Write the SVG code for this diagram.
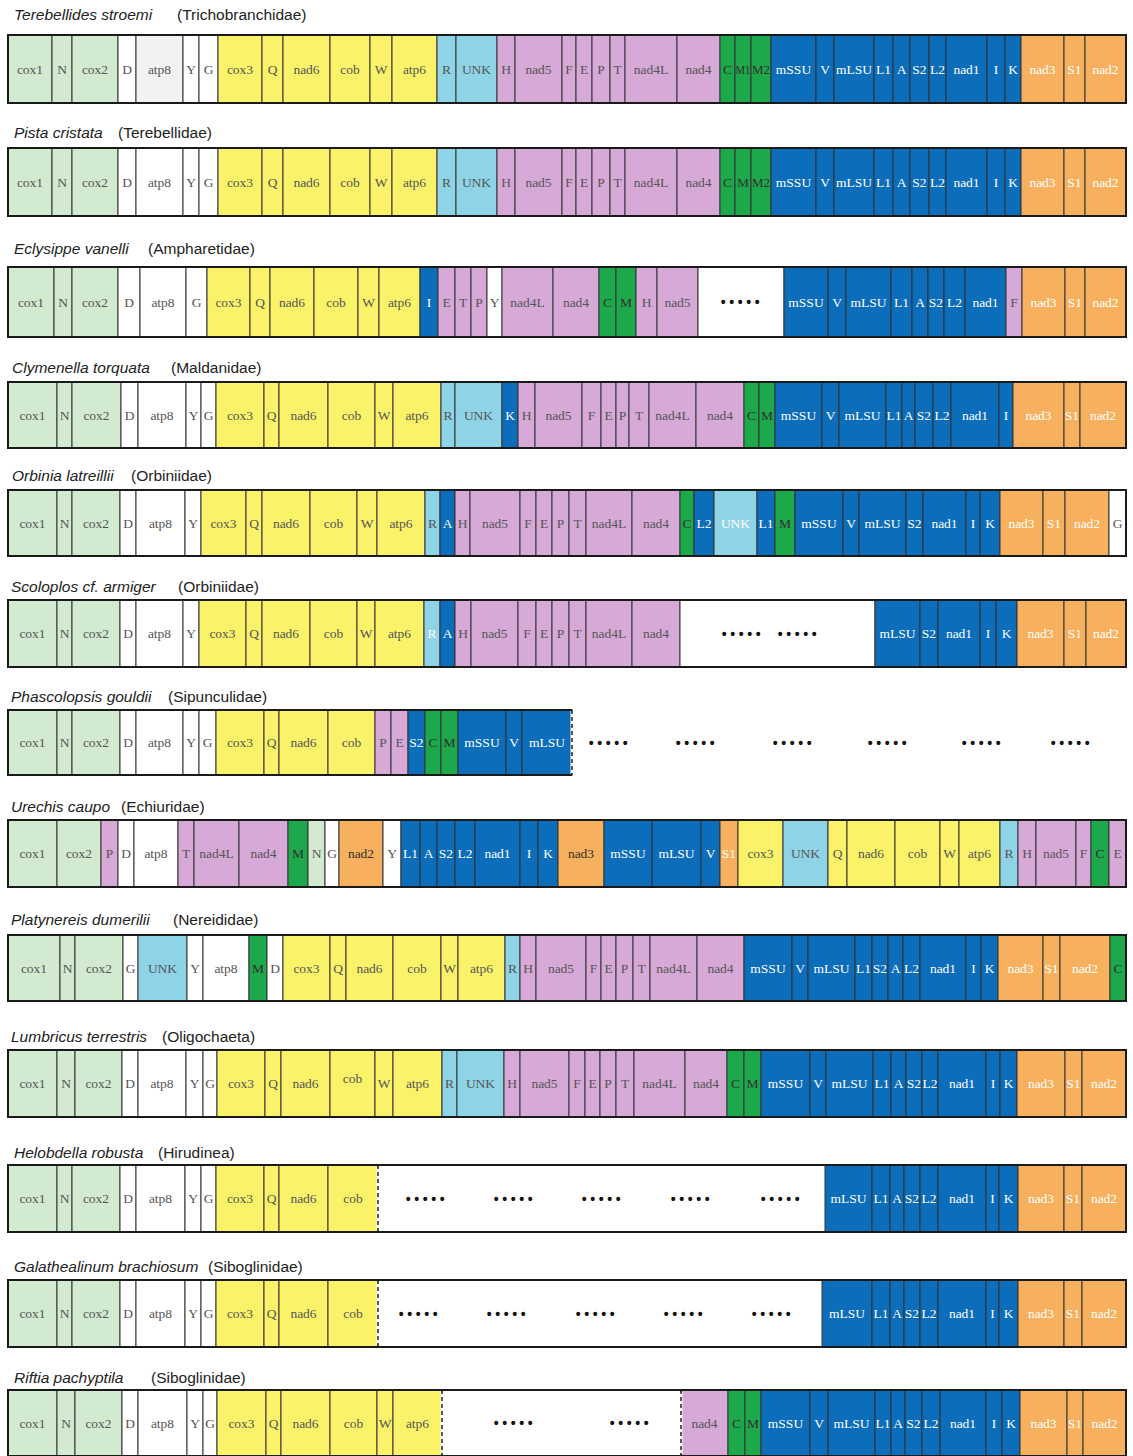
<svg xmlns="http://www.w3.org/2000/svg" width="1133" height="1456" viewBox="0 0 1133 1456">
<style>
rect{stroke:#333;stroke-width:1}
.g1{fill:#d2ead0}.w{fill:#fff}.gw{fill:#f2f2f2}.y{fill:#faf36a}.lb{fill:#8fd3e6}.p{fill:#d6a9d7}.dg{fill:#1ea84c}.b{fill:#0c6dbb}.o{fill:#f7b15e}
.fr{fill:none;stroke:#1a1a1a;stroke-width:2}
.nb{stroke:none}
text{font-family:"Liberation Serif","Times New Roman",serif;font-size:13.5px;text-anchor:middle;dominant-baseline:central;fill:#555}
.lw{fill:#fff}
.ld{fill:#2f2f2f}
.d{font-family:"Liberation Sans",Arial,sans-serif;font-weight:bold;font-size:14px;letter-spacing:3.6px;fill:#111}
.ti{font-family:"Liberation Sans",Arial,sans-serif;font-size:15.5px;text-anchor:start;dominant-baseline:auto;fill:#222}
.it{font-style:italic}
.dash{stroke:#222;stroke-width:1.5;stroke-dasharray:4 3;fill:none}
.wl{stroke:#fff;stroke-width:3}
</style>

<!-- Row 1 -->
<g id="row-terebellides">
<text class="ti" x="14" y="20"><tspan class="it">Terebellides stroemi</tspan><tspan x="177">(Trichobranchidae)</tspan></text>
<g transform="translate(0,35)">
<rect class="g1" x="8" y="0" width="44" height="68"/><text x="30" y="34">cox1</text>
<rect class="g1" x="52" y="0" width="20" height="68"/><text x="62" y="34">N</text>
<rect class="g1" x="72" y="0" width="46" height="68"/><text x="95" y="34">cox2</text>
<rect class="w" x="118" y="0" width="18" height="68"/><text x="127" y="34">D</text>
<rect class="gw" x="136" y="0" width="47" height="68"/><text x="159.5" y="34">atp8</text>
<rect class="w" x="183" y="0" width="16" height="68"/><text x="191" y="34">Y</text>
<rect class="w" x="199" y="0" width="19" height="68"/><text x="208.5" y="34">G</text>
<rect class="y" x="218" y="0" width="44" height="68"/><text x="240" y="34">cox3</text>
<rect class="y" x="262" y="0" width="21" height="68"/><text x="272.5" y="34">Q</text>
<rect class="y" x="283" y="0" width="47" height="68"/><text x="306.5" y="34">nad6</text>
<rect class="y" x="330" y="0" width="40" height="68"/><text x="350" y="34">cob</text>
<rect class="y" x="370" y="0" width="22" height="68"/><text x="381" y="34">W</text>
<rect class="y" x="392" y="0" width="45" height="68"/><text x="414.5" y="34">atp6</text>
<rect class="lb" x="437" y="0" width="19" height="68"/><text x="446.5" y="34">R</text>
<rect class="lb" x="456" y="0" width="41" height="68"/><text x="476.5" y="34">UNK</text>
<rect class="p" x="497" y="0" width="18" height="68"/><text x="506" y="34">H</text>
<rect class="p" x="515" y="0" width="47" height="68"/><text x="538.5" y="34">nad5</text>
<rect class="p" x="562" y="0" width="14" height="68"/><text x="569" y="34">F</text>
<rect class="p" x="576" y="0" width="16" height="68"/><text x="584" y="34">E</text>
<rect class="p" x="592" y="0" width="18" height="68"/><text x="601" y="34">P</text>
<rect class="p" x="610" y="0" width="15" height="68"/><text x="617.5" y="34">T</text>
<rect class="p" x="625" y="0" width="52" height="68"/><text x="651" y="34">nad4L</text>
<rect class="p" x="677" y="0" width="43" height="68"/><text x="698.5" y="34">nad4</text>
<rect class="dg" x="720" y="0" width="15" height="68"/><text class="ld" x="727.5" y="34">C</text>
<rect class="dg" x="735" y="0" width="16" height="68"/><text class="ld" x="743" y="34" textLength="15" lengthAdjust="spacingAndGlyphs">M1</text>
<rect class="dg" x="751" y="0" width="20" height="68"/><text class="ld" x="761" y="34" textLength="18" lengthAdjust="spacingAndGlyphs">M2</text>
<rect class="b" x="771" y="0" width="45" height="68"/><text class="lw" x="793.5" y="34">mSSU</text>
<rect class="b" x="816" y="0" width="18" height="68"/><text class="lw" x="825" y="34">V</text>
<rect class="b" x="834" y="0" width="40" height="68"/><text class="lw" x="854" y="34">mLSU</text>
<rect class="b" x="874" y="0" width="19" height="68"/><text class="lw" x="883.5" y="34">L1</text>
<rect class="b" x="893" y="0" width="17" height="68"/><text class="lw" x="901.5" y="34">A</text>
<rect class="b" x="910" y="0" width="19" height="68"/><text class="lw" x="919.5" y="34">S2</text>
<rect class="b" x="929" y="0" width="17" height="68"/><text class="lw" x="937.5" y="34">L2</text>
<rect class="b" x="946" y="0" width="41" height="68"/><text class="lw" x="966.5" y="34">nad1</text>
<rect class="b" x="987" y="0" width="18" height="68"/><text class="lw" x="996" y="34">I</text>
<rect class="b" x="1005" y="0" width="16" height="68"/><text class="lw" x="1013" y="34">K</text>
<rect class="o" x="1021" y="0" width="43" height="68"/><text class="lw" x="1042.5" y="34">nad3</text>
<rect class="o" x="1064" y="0" width="21" height="68"/><text class="lw" x="1074.5" y="34">S1</text>
<rect class="o" x="1085" y="0" width="41" height="68"/><text class="lw" x="1105.5" y="34">nad2</text>
<rect class="fr" x="8" y="0" width="1118" height="68"/>
</g>
</g>

<!-- Row 2 -->
<g id="row-pista">
<text class="ti" x="14" y="138"><tspan class="it">Pista cristata</tspan><tspan x="118">(Terebellidae)</tspan></text>
<g transform="translate(0,148)">
<rect class="g1" x="8" y="0" width="44" height="68"/><text x="30" y="34">cox1</text>
<rect class="g1" x="52" y="0" width="20" height="68"/><text x="62" y="34">N</text>
<rect class="g1" x="72" y="0" width="46" height="68"/><text x="95" y="34">cox2</text>
<rect class="w" x="118" y="0" width="18" height="68"/><text x="127" y="34">D</text>
<rect class="w" x="136" y="0" width="47" height="68"/><text x="159.5" y="34">atp8</text>
<rect class="w" x="183" y="0" width="16" height="68"/><text x="191" y="34">Y</text>
<rect class="w" x="199" y="0" width="19" height="68"/><text x="208.5" y="34">G</text>
<rect class="y" x="218" y="0" width="44" height="68"/><text x="240" y="34">cox3</text>
<rect class="y" x="262" y="0" width="21" height="68"/><text x="272.5" y="34">Q</text>
<rect class="y" x="283" y="0" width="47" height="68"/><text x="306.5" y="34">nad6</text>
<rect class="y" x="330" y="0" width="40" height="68"/><text x="350" y="34">cob</text>
<rect class="y" x="370" y="0" width="22" height="68"/><text x="381" y="34">W</text>
<rect class="y" x="392" y="0" width="45" height="68"/><text x="414.5" y="34">atp6</text>
<rect class="lb" x="437" y="0" width="19" height="68"/><text x="446.5" y="34">R</text>
<rect class="lb" x="456" y="0" width="41" height="68"/><text x="476.5" y="34">UNK</text>
<rect class="p" x="497" y="0" width="18" height="68"/><text x="506" y="34">H</text>
<rect class="p" x="515" y="0" width="47" height="68"/><text x="538.5" y="34">nad5</text>
<rect class="p" x="562" y="0" width="14" height="68"/><text x="569" y="34">F</text>
<rect class="p" x="576" y="0" width="16" height="68"/><text x="584" y="34">E</text>
<rect class="p" x="592" y="0" width="18" height="68"/><text x="601" y="34">P</text>
<rect class="p" x="610" y="0" width="15" height="68"/><text x="617.5" y="34">T</text>
<rect class="p" x="625" y="0" width="52" height="68"/><text x="651" y="34">nad4L</text>
<rect class="p" x="677" y="0" width="43" height="68"/><text x="698.5" y="34">nad4</text>
<rect class="dg" x="720" y="0" width="15" height="68"/><text class="ld" x="727.5" y="34">C</text>
<rect class="dg" x="735" y="0" width="16" height="68"/><text class="ld" x="743" y="34">M</text>
<rect class="dg" x="751" y="0" width="20" height="68"/><text class="ld" x="761" y="34" textLength="18" lengthAdjust="spacingAndGlyphs">M2</text>
<rect class="b" x="771" y="0" width="45" height="68"/><text class="lw" x="793.5" y="34">mSSU</text>
<rect class="b" x="816" y="0" width="18" height="68"/><text class="lw" x="825" y="34">V</text>
<rect class="b" x="834" y="0" width="40" height="68"/><text class="lw" x="854" y="34">mLSU</text>
<rect class="b" x="874" y="0" width="19" height="68"/><text class="lw" x="883.5" y="34">L1</text>
<rect class="b" x="893" y="0" width="17" height="68"/><text class="lw" x="901.5" y="34">A</text>
<rect class="b" x="910" y="0" width="19" height="68"/><text class="lw" x="919.5" y="34">S2</text>
<rect class="b" x="929" y="0" width="17" height="68"/><text class="lw" x="937.5" y="34">L2</text>
<rect class="b" x="946" y="0" width="41" height="68"/><text class="lw" x="966.5" y="34">nad1</text>
<rect class="b" x="987" y="0" width="18" height="68"/><text class="lw" x="996" y="34">I</text>
<rect class="b" x="1005" y="0" width="16" height="68"/><text class="lw" x="1013" y="34">K</text>
<rect class="o" x="1021" y="0" width="43" height="68"/><text class="lw" x="1042.5" y="34">nad3</text>
<rect class="o" x="1064" y="0" width="21" height="68"/><text class="lw" x="1074.5" y="34">S1</text>
<rect class="o" x="1085" y="0" width="41" height="68"/><text class="lw" x="1105.5" y="34">nad2</text>
<rect class="fr" x="8" y="0" width="1118" height="68"/>
</g>
</g>

<!-- Row 3 -->
<g id="row-eclysippe">
<text class="ti" x="14" y="254"><tspan class="it">Eclysippe vanelli</tspan><tspan x="148">(Ampharetidae)</tspan></text>
<g transform="translate(0,267)">
<rect class="g1" x="8" y="0" width="46" height="70"/><text x="31" y="35">cox1</text>
<rect class="g1" x="54" y="0" width="18" height="70"/><text x="63" y="35">N</text>
<rect class="g1" x="72" y="0" width="46" height="70"/><text x="95" y="35">cox2</text>
<rect class="w" x="118" y="0" width="22" height="70"/><text x="129" y="35">D</text>
<rect class="w" x="140" y="0" width="46" height="70"/><text x="163" y="35">atp8</text>
<rect class="w" x="186" y="0" width="21" height="70"/><text x="196.5" y="35">G</text>
<rect class="y" x="207" y="0" width="43" height="70"/><text x="228.5" y="35">cox3</text>
<rect class="y" x="250" y="0" width="20" height="70"/><text x="260" y="35">Q</text>
<rect class="y" x="270" y="0" width="44" height="70"/><text x="292" y="35">nad6</text>
<rect class="y" x="314" y="0" width="44" height="70"/><text x="336" y="35">cob</text>
<rect class="y" x="358" y="0" width="21" height="70"/><text x="368.5" y="35">W</text>
<rect class="y" x="379" y="0" width="41" height="70"/><text x="399.5" y="35">atp6</text>
<rect class="b" x="420" y="0" width="18" height="70"/><text class="lw" x="429" y="35">I</text>
<rect class="p" x="438" y="0" width="17" height="70"/><text x="446.5" y="35">E</text>
<rect class="p" x="455" y="0" width="16" height="70"/><text x="463" y="35">T</text>
<rect class="p" x="471" y="0" width="16" height="70"/><text x="479" y="35">P</text>
<rect class="w" x="487" y="0" width="15" height="70"/><text x="494.5" y="35">Y</text>
<rect class="p" x="502" y="0" width="51" height="70"/><text x="527.5" y="35">nad4L</text>
<rect class="p" x="553" y="0" width="46" height="70"/><text x="576" y="35">nad4</text>
<rect class="dg" x="599" y="0" width="17" height="70"/><text class="ld" x="607.5" y="35">C</text>
<rect class="dg" x="616" y="0" width="20" height="70"/><text class="ld" x="626" y="35">M</text>
<rect class="p" x="636" y="0" width="21" height="70"/><text x="646.5" y="35">H</text>
<rect class="p" x="657" y="0" width="41" height="70"/><text x="677.5" y="35">nad5</text>
<rect class="w" x="698" y="0" width="86" height="70"/><text class="d" x="742" y="35">•••••</text>
<rect class="b" x="784" y="0" width="44" height="70"/><text class="lw" x="806" y="35">mSSU</text>
<rect class="b" x="828" y="0" width="18" height="70"/><text class="lw" x="837" y="35">V</text>
<rect class="b" x="846" y="0" width="45" height="70"/><text class="lw" x="868.5" y="35">mLSU</text>
<rect class="b" x="891" y="0" width="21" height="70"/><text class="lw" x="901.5" y="35">L1</text>
<rect class="b" x="912" y="0" width="16" height="70"/><text class="lw" x="920" y="35">A</text>
<rect class="b" x="928" y="0" width="16" height="70"/><text class="lw" x="936" y="35">S2</text>
<rect class="b" x="944" y="0" width="21" height="70"/><text class="lw" x="954.5" y="35">L2</text>
<rect class="b" x="965" y="0" width="41" height="70"/><text class="lw" x="985.5" y="35">nad1</text>
<rect class="p" x="1006" y="0" width="16" height="70"/><text x="1014" y="35">F</text>
<rect class="o" x="1022" y="0" width="43" height="70"/><text class="lw" x="1043.5" y="35">nad3</text>
<rect class="o" x="1065" y="0" width="20" height="70"/><text class="lw" x="1075" y="35">S1</text>
<rect class="o" x="1085" y="0" width="41" height="70"/><text class="lw" x="1105.5" y="35">nad2</text>
<rect class="fr" x="8" y="0" width="1118" height="70"/>
</g>
</g>

<!-- Row 4 -->
<g id="row-clymenella">
<text class="ti" x="12" y="373"><tspan class="it">Clymenella torquata</tspan><tspan x="171">(Maldanidae)</tspan></text>
<g transform="translate(0,382)">
<rect class="g1" x="8" y="0" width="49" height="66"/><text x="32.5" y="33">cox1</text>
<rect class="g1" x="57" y="0" width="15" height="66"/><text x="64.5" y="33">N</text>
<rect class="g1" x="72" y="0" width="49" height="66"/><text x="96.5" y="33">cox2</text>
<rect class="w" x="121" y="0" width="17" height="66"/><text x="129.5" y="33">D</text>
<rect class="w" x="138" y="0" width="48" height="66"/><text x="162" y="33">atp8</text>
<rect class="w" x="186" y="0" width="15" height="66"/><text x="193.5" y="33">Y</text>
<rect class="w" x="201" y="0" width="15" height="66"/><text x="208.5" y="33">G</text>
<rect class="y" x="216" y="0" width="48" height="66"/><text x="240" y="33">cox3</text>
<rect class="y" x="264" y="0" width="15" height="66"/><text x="271.5" y="33">Q</text>
<rect class="y" x="279" y="0" width="49" height="66"/><text x="303.5" y="33">nad6</text>
<rect class="y" x="328" y="0" width="47" height="66"/><text x="351.5" y="33">cob</text>
<rect class="y" x="375" y="0" width="18" height="66"/><text x="384" y="33">W</text>
<rect class="y" x="393" y="0" width="48" height="66"/><text x="417" y="33">atp6</text>
<rect class="lb" x="441" y="0" width="14" height="66"/><text x="448" y="33">R</text>
<rect class="lb" x="455" y="0" width="47" height="66"/><text x="478.5" y="33">UNK</text>
<rect class="b" x="502" y="0" width="16" height="66"/><text class="lw" x="510" y="33">K</text>
<rect class="p" x="518" y="0" width="17" height="66"/><text x="526.5" y="33">H</text>
<rect class="p" x="535" y="0" width="47" height="66"/><text x="558.5" y="33">nad5</text>
<rect class="p" x="582" y="0" width="19" height="66"/><text x="591.5" y="33">F</text>
<rect class="p" x="601" y="0" width="15" height="66"/><text x="608.5" y="33">E</text>
<rect class="p" x="616" y="0" width="13" height="66"/><text x="622.5" y="33">P</text>
<rect class="p" x="629" y="0" width="20" height="66"/><text x="639" y="33">T</text>
<rect class="p" x="649" y="0" width="47" height="66"/><text x="672.5" y="33">nad4L</text>
<rect class="p" x="696" y="0" width="48" height="66"/><text x="720" y="33">nad4</text>
<rect class="dg" x="744" y="0" width="15" height="66"/><text class="ld" x="751.5" y="33">C</text>
<rect class="dg" x="759" y="0" width="16" height="66"/><text class="ld" x="767" y="33">M</text>
<rect class="b" x="775" y="0" width="47" height="66"/><text class="lw" x="798.5" y="33">mSSU</text>
<rect class="b" x="822" y="0" width="17" height="66"/><text class="lw" x="830.5" y="33">V</text>
<rect class="b" x="839" y="0" width="47" height="66"/><text class="lw" x="862.5" y="33">mLSU</text>
<rect class="b" x="886" y="0" width="16" height="66"/><text class="lw" x="894" y="33">L1</text>
<rect class="b" x="902" y="0" width="13" height="66"/><text class="lw" x="908.5" y="33">A</text>
<rect class="b" x="915" y="0" width="18" height="66"/><text class="lw" x="924" y="33">S2</text>
<rect class="b" x="933" y="0" width="18" height="66"/><text class="lw" x="942" y="33">L2</text>
<rect class="b" x="951" y="0" width="48" height="66"/><text class="lw" x="975" y="33">nad1</text>
<rect class="b" x="999" y="0" width="14" height="66"/><text class="lw" x="1006" y="33">I</text>
<rect class="o" x="1013" y="0" width="51" height="66"/><text class="lw" x="1038.5" y="33">nad3</text>
<rect class="o" x="1064" y="0" width="16" height="66"/><text class="lw" x="1072" y="33">S1</text>
<rect class="o" x="1080" y="0" width="46" height="66"/><text class="lw" x="1103" y="33">nad2</text>
<rect class="fr" x="8" y="0" width="1118" height="66"/>
</g>
</g>

<!-- Row 5 -->
<g id="row-orbinia">
<text class="ti" x="12" y="481"><tspan class="it">Orbinia latreillii</tspan><tspan x="131">(Orbiniidae)</tspan></text>
<g transform="translate(0,490)">
<rect class="g1" x="8" y="0" width="49" height="66"/><text x="32.5" y="33">cox1</text>
<rect class="g1" x="57" y="0" width="15" height="66"/><text x="64.5" y="33">N</text>
<rect class="g1" x="72" y="0" width="48" height="66"/><text x="96" y="33">cox2</text>
<rect class="w" x="120" y="0" width="16" height="66"/><text x="128" y="33">D</text>
<rect class="w" x="136" y="0" width="49" height="66"/><text x="160.5" y="33">atp8</text>
<rect class="w" x="185" y="0" width="16" height="66"/><text x="193" y="33">Y</text>
<rect class="y" x="201" y="0" width="45" height="66"/><text x="223.5" y="33">cox3</text>
<rect class="y" x="246" y="0" width="16" height="66"/><text x="254" y="33">Q</text>
<rect class="y" x="262" y="0" width="48" height="66"/><text x="286" y="33">nad6</text>
<rect class="y" x="310" y="0" width="47" height="66"/><text x="333.5" y="33">cob</text>
<rect class="y" x="357" y="0" width="20" height="66"/><text x="367" y="33">W</text>
<rect class="y" x="377" y="0" width="48" height="66"/><text x="401" y="33">atp6</text>
<rect class="lb" x="425" y="0" width="15" height="66"/><text x="432.5" y="33">R</text>
<rect class="b" x="440" y="0" width="15" height="66"/><text class="lw" x="447.5" y="33">A</text>
<rect class="p" x="455" y="0" width="15" height="66"/><text x="462.5" y="33">H</text>
<rect class="p" x="470" y="0" width="50" height="66"/><text x="495" y="33">nad5</text>
<rect class="p" x="520" y="0" width="16" height="66"/><text x="528" y="33">F</text>
<rect class="p" x="536" y="0" width="16" height="66"/><text x="544" y="33">E</text>
<rect class="p" x="552" y="0" width="17" height="66"/><text x="560.5" y="33">P</text>
<rect class="p" x="569" y="0" width="17" height="66"/><text x="577.5" y="33">T</text>
<rect class="p" x="586" y="0" width="46" height="66"/><text x="609" y="33">nad4L</text>
<rect class="p" x="632" y="0" width="48" height="66"/><text x="656" y="33">nad4</text>
<rect class="dg" x="680" y="0" width="14" height="66"/><text class="ld" x="687" y="33">C</text>
<rect class="b" x="694" y="0" width="20" height="66"/><text class="lw" x="704" y="33">L2</text>
<rect class="lb" x="714" y="0" width="43" height="66"/><text class="lw" x="735.5" y="33">UNK</text>
<rect class="b" x="757" y="0" width="18" height="66"/><text class="lw" x="766" y="33">L1</text>
<rect class="dg" x="775" y="0" width="20" height="66"/><text class="ld" x="785" y="33">M</text>
<rect class="b" x="795" y="0" width="48" height="66"/><text class="lw" x="819" y="33">mSSU</text>
<rect class="b" x="843" y="0" width="16" height="66"/><text class="lw" x="851" y="33">V</text>
<rect class="b" x="859" y="0" width="47" height="66"/><text class="lw" x="882.5" y="33">mLSU</text>
<rect class="b" x="906" y="0" width="17" height="66"/><text class="lw" x="914.5" y="33">S2</text>
<rect class="b" x="923" y="0" width="43" height="66"/><text class="lw" x="944.5" y="33">nad1</text>
<rect class="b" x="966" y="0" width="14" height="66"/><text class="lw" x="973" y="33">I</text>
<rect class="b" x="980" y="0" width="20" height="66"/><text class="lw" x="990" y="33">K</text>
<rect class="o" x="1000" y="0" width="43" height="66"/><text class="lw" x="1021.5" y="33">nad3</text>
<rect class="o" x="1043" y="0" width="22" height="66"/><text class="lw" x="1054" y="33">S1</text>
<rect class="o" x="1065" y="0" width="44" height="66"/><text class="lw" x="1087" y="33">nad2</text>
<rect class="w" x="1109" y="0" width="17" height="66"/><text x="1117.5" y="33">G</text>
<rect class="fr" x="8" y="0" width="1118" height="66"/>
</g>
</g>

<!-- Row 6 -->
<g id="row-scoloplos">
<text class="ti" x="11" y="592"><tspan class="it">Scoloplos cf. armiger</tspan><tspan x="178">(Orbiniidae)</tspan></text>
<g transform="translate(0,600)">
<rect class="g1" x="8" y="0" width="49" height="67"/><text x="32.5" y="33.5">cox1</text>
<rect class="g1" x="57" y="0" width="15" height="67"/><text x="64.5" y="33.5">N</text>
<rect class="g1" x="72" y="0" width="48" height="67"/><text x="96" y="33.5">cox2</text>
<rect class="w" x="120" y="0" width="16" height="67"/><text x="128" y="33.5">D</text>
<rect class="w" x="136" y="0" width="47" height="67"/><text x="159.5" y="33.5">atp8</text>
<rect class="w" x="183" y="0" width="16" height="67"/><text x="191" y="33.5">Y</text>
<rect class="y" x="199" y="0" width="47" height="67"/><text x="222.5" y="33.5">cox3</text>
<rect class="y" x="246" y="0" width="16" height="67"/><text x="254" y="33.5">Q</text>
<rect class="y" x="262" y="0" width="48" height="67"/><text x="286" y="33.5">nad6</text>
<rect class="y" x="310" y="0" width="47" height="67"/><text x="333.5" y="33.5">cob</text>
<rect class="y" x="357" y="0" width="18" height="67"/><text x="366" y="33.5">W</text>
<rect class="y" x="375" y="0" width="49" height="67"/><text x="399.5" y="33.5">atp6</text>
<rect class="lb" x="424" y="0" width="16" height="67"/><text class="lw" x="432" y="33.5">R</text>
<rect class="b" x="440" y="0" width="15" height="67"/><text class="lw" x="447.5" y="33.5">A</text>
<rect class="p" x="455" y="0" width="16" height="67"/><text x="463" y="33.5">H</text>
<rect class="p" x="471" y="0" width="47" height="67"/><text x="494.5" y="33.5">nad5</text>
<rect class="p" x="518" y="0" width="18" height="67"/><text x="527" y="33.5">F</text>
<rect class="p" x="536" y="0" width="16" height="67"/><text x="544" y="33.5">E</text>
<rect class="p" x="552" y="0" width="17" height="67"/><text x="560.5" y="33.5">P</text>
<rect class="p" x="569" y="0" width="17" height="67"/><text x="577.5" y="33.5">T</text>
<rect class="p" x="586" y="0" width="46" height="67"/><text x="609" y="33.5">nad4L</text>
<rect class="p" x="632" y="0" width="48" height="67"/><text x="656" y="33.5">nad4</text>
<rect class="w" x="680" y="0" width="195" height="67"/>
<text class="d" x="743" y="33.5">•••••</text><text class="d" x="799" y="33.5">•••••</text>
<rect class="b" x="875" y="0" width="45" height="67"/><text class="lw" x="897.5" y="33.5">mLSU</text>
<rect class="b" x="920" y="0" width="18" height="67"/><text class="lw" x="929" y="33.5">S2</text>
<rect class="b" x="938" y="0" width="42" height="67"/><text class="lw" x="959" y="33.5">nad1</text>
<rect class="b" x="980" y="0" width="16" height="67"/><text class="lw" x="988" y="33.5">I</text>
<rect class="b" x="996" y="0" width="21" height="67"/><text class="lw" x="1006.5" y="33.5">K</text>
<rect class="o" x="1017" y="0" width="47" height="67"/><text class="lw" x="1040.5" y="33.5">nad3</text>
<rect class="o" x="1064" y="0" width="22" height="67"/><text class="lw" x="1075" y="33.5">S1</text>
<rect class="o" x="1086" y="0" width="40" height="67"/><text class="lw" x="1106" y="33.5">nad2</text>
<rect class="fr" x="8" y="0" width="1118" height="67"/>
</g>
</g>

<!-- Row 7 -->
<g id="row-phascolopsis">
<text class="ti" x="11" y="702"><tspan class="it">Phascolopsis gouldii</tspan><tspan x="168">(Sipunculidae)</tspan></text>
<g transform="translate(0,710)">
<rect class="g1" x="8" y="0" width="49" height="65"/><text x="32.5" y="32.5">cox1</text>
<rect class="g1" x="57" y="0" width="15" height="65"/><text x="64.5" y="32.5">N</text>
<rect class="g1" x="72" y="0" width="48" height="65"/><text x="96" y="32.5">cox2</text>
<rect class="w" x="120" y="0" width="16" height="65"/><text x="128" y="32.5">D</text>
<rect class="w" x="136" y="0" width="47" height="65"/><text x="159.5" y="32.5">atp8</text>
<rect class="w" x="183" y="0" width="16" height="65"/><text x="191" y="32.5">Y</text>
<rect class="w" x="199" y="0" width="17" height="65"/><text x="207.5" y="32.5">G</text>
<rect class="y" x="216" y="0" width="48" height="65"/><text x="240" y="32.5">cox3</text>
<rect class="y" x="264" y="0" width="15" height="65"/><text x="271.5" y="32.5">Q</text>
<rect class="y" x="279" y="0" width="49" height="65"/><text x="303.5" y="32.5">nad6</text>
<rect class="y" x="328" y="0" width="47" height="65"/><text x="351.5" y="32.5">cob</text>
<rect class="p" x="375" y="0" width="16" height="65"/><text x="383" y="32.5">P</text>
<rect class="p" x="391" y="0" width="17" height="65"/><text x="399.5" y="32.5">E</text>
<rect class="b" x="408" y="0" width="17" height="65"/><text class="lw" x="416.5" y="32.5">S2</text>
<rect class="dg" x="425" y="0" width="16" height="65"/><text class="ld" x="433" y="32.5">C</text>
<rect class="dg" x="441" y="0" width="17" height="65"/><text class="ld" x="449.5" y="32.5">M</text>
<rect class="b" x="458" y="0" width="48" height="65"/><text class="lw" x="482" y="32.5">mSSU</text>
<rect class="b" x="506" y="0" width="16" height="65"/><text class="lw" x="514" y="32.5">V</text>
<rect class="b" x="522" y="0" width="50" height="65"/><text class="lw" x="547" y="32.5">mLSU</text>
<path class="fr" d="M572 0 H8 V65 H572"/>
<line class="wl" x1="572" y1="1" x2="572" y2="64"/>
<line class="dash" x1="572" y1="0" x2="572" y2="65"/>
<text class="d" x="610" y="32.5">•••••</text>
<text class="d" x="697" y="32.5">•••••</text>
<text class="d" x="794" y="32.5">•••••</text>
<text class="d" x="889" y="32.5">•••••</text>
<text class="d" x="983" y="32.5">•••••</text>
<text class="d" x="1072" y="32.5">•••••</text>
</g>
</g>

<!-- Row 8 -->
<g id="row-urechis">
<text class="ti" x="11" y="812"><tspan class="it">Urechis caupo</tspan><tspan x="121">(Echiuridae)</tspan></text>
<g transform="translate(0,820)">
<rect class="g1" x="8" y="0" width="49" height="67"/><text x="32.5" y="33.5">cox1</text>
<rect class="g1" x="57" y="0" width="44" height="67"/><text x="79" y="33.5">cox2</text>
<rect class="p" x="101" y="0" width="17" height="67"/><text x="109.5" y="33.5">P</text>
<rect class="w" x="118" y="0" width="16" height="67"/><text x="126" y="33.5">D</text>
<rect class="w" x="134" y="0" width="44" height="67"/><text x="156" y="33.5">atp8</text>
<rect class="p" x="178" y="0" width="16" height="67"/><text x="186" y="33.5">T</text>
<rect class="p" x="194" y="0" width="45" height="67"/><text x="216.5" y="33.5">nad4L</text>
<rect class="p" x="239" y="0" width="49" height="67"/><text x="263.5" y="33.5">nad4</text>
<rect class="dg" x="288" y="0" width="20" height="67"/><text class="ld" x="298" y="33.5">M</text>
<rect class="g1" x="308" y="0" width="17" height="67"/><text x="316.5" y="33.5">N</text>
<rect class="w" x="325" y="0" width="14" height="67"/><text x="332" y="33.5">G</text>
<rect class="o" x="339" y="0" width="44" height="67"/><text class="ld" x="361" y="33.5">nad2</text>
<rect class="w" x="383" y="0" width="18" height="67"/><text x="392" y="33.5">Y</text>
<rect class="b" x="401" y="0" width="19" height="67"/><text class="lw" x="410.5" y="33.5">L1</text>
<rect class="b" x="420" y="0" width="17" height="67"/><text class="lw" x="428.5" y="33.5">A</text>
<rect class="b" x="437" y="0" width="18" height="67"/><text class="lw" x="446" y="33.5">S2</text>
<rect class="b" x="455" y="0" width="20" height="67"/><text class="lw" x="465" y="33.5">L2</text>
<rect class="b" x="475" y="0" width="45" height="67"/><text class="lw" x="497.5" y="33.5">nad1</text>
<rect class="b" x="520" y="0" width="18" height="67"/><text class="lw" x="529" y="33.5">I</text>
<rect class="b" x="538" y="0" width="20" height="67"/><text class="lw" x="548" y="33.5">K</text>
<rect class="o" x="558" y="0" width="46" height="67"/><text class="ld" x="581" y="33.5">nad3</text>
<rect class="b" x="604" y="0" width="48" height="67"/><text class="lw" x="628" y="33.5">mSSU</text>
<rect class="b" x="652" y="0" width="49" height="67"/><text class="lw" x="676.5" y="33.5">mLSU</text>
<rect class="b" x="701" y="0" width="19" height="67"/><text class="lw" x="710.5" y="33.5">V</text>
<rect class="o" x="720" y="0" width="18" height="67"/><text class="lw" x="729" y="33.5">S1</text>
<rect class="y" x="738" y="0" width="45" height="67"/><text x="760.5" y="33.5">cox3</text>
<rect class="lb" x="783" y="0" width="45" height="67"/><text x="805.5" y="33.5">UNK</text>
<rect class="y" x="828" y="0" width="19" height="67"/><text x="837.5" y="33.5">Q</text>
<rect class="y" x="847" y="0" width="48" height="67"/><text x="871" y="33.5">nad6</text>
<rect class="y" x="895" y="0" width="45" height="67"/><text x="917.5" y="33.5">cob</text>
<rect class="y" x="940" y="0" width="19" height="67"/><text x="949.5" y="33.5">W</text>
<rect class="y" x="959" y="0" width="41" height="67"/><text x="979.5" y="33.5">atp6</text>
<rect class="lb" x="1000" y="0" width="18" height="67"/><text x="1009" y="33.5">R</text>
<rect class="p" x="1018" y="0" width="18" height="67"/><text x="1027" y="33.5">H</text>
<rect class="p" x="1036" y="0" width="40" height="67"/><text x="1056" y="33.5">nad5</text>
<rect class="p" x="1076" y="0" width="15" height="67"/><text x="1083.5" y="33.5">F</text>
<rect class="dg" x="1091" y="0" width="18" height="67"/><text class="ld" x="1100" y="33.5">C</text>
<rect class="p" x="1109" y="0" width="17" height="67"/><text x="1117.5" y="33.5">E</text>
<rect class="fr" x="8" y="0" width="1118" height="67"/>
</g>
</g>

<!-- Row 9 -->
<g id="row-platynereis">
<text class="ti" x="11" y="925"><tspan class="it">Platynereis dumerilii</tspan><tspan x="173">(Nereididae)</tspan></text>
<g transform="translate(0,935)">
<rect class="g1" x="8" y="0" width="52" height="66"/><text x="34" y="33">cox1</text>
<rect class="g1" x="60" y="0" width="15" height="66"/><text x="67.5" y="33">N</text>
<rect class="g1" x="75" y="0" width="48" height="66"/><text x="99" y="33">cox2</text>
<rect class="w" x="123" y="0" width="15" height="66"/><text x="130.5" y="33">G</text>
<rect class="lb" x="138" y="0" width="49" height="66"/><text x="162.5" y="33">UNK</text>
<rect class="w" x="187" y="0" width="16" height="66"/><text x="195" y="33">Y</text>
<rect class="w" x="203" y="0" width="46" height="66"/><text x="226" y="33">atp8</text>
<rect class="dg" x="249" y="0" width="18" height="66"/><text class="ld" x="258" y="33">M</text>
<rect class="w" x="267" y="0" width="16" height="66"/><text x="275" y="33">D</text>
<rect class="y" x="283" y="0" width="47" height="66"/><text x="306.5" y="33">cox3</text>
<rect class="y" x="330" y="0" width="16" height="66"/><text x="338" y="33">Q</text>
<rect class="y" x="346" y="0" width="47" height="66"/><text x="369.5" y="33">nad6</text>
<rect class="y" x="393" y="0" width="48" height="66"/><text x="417" y="33">cob</text>
<rect class="y" x="441" y="0" width="17" height="66"/><text x="449.5" y="33">W</text>
<rect class="y" x="458" y="0" width="47" height="66"/><text x="481.5" y="33">atp6</text>
<rect class="lb" x="505" y="0" width="15" height="66"/><text x="512.5" y="33">R</text>
<rect class="p" x="520" y="0" width="16" height="66"/><text x="528" y="33">H</text>
<rect class="p" x="536" y="0" width="50" height="66"/><text x="561" y="33">nad5</text>
<rect class="p" x="586" y="0" width="15" height="66"/><text x="593.5" y="33">F</text>
<rect class="p" x="601" y="0" width="15" height="66"/><text x="608.5" y="33">E</text>
<rect class="p" x="616" y="0" width="17" height="66"/><text x="624.5" y="33">P</text>
<rect class="p" x="633" y="0" width="17" height="66"/><text x="641.5" y="33">T</text>
<rect class="p" x="650" y="0" width="47" height="66"/><text x="673.5" y="33">nad4L</text>
<rect class="p" x="697" y="0" width="47" height="66"/><text x="720.5" y="33">nad4</text>
<rect class="b" x="744" y="0" width="48" height="66"/><text class="lw" x="768" y="33">mSSU</text>
<rect class="b" x="792" y="0" width="16" height="66"/><text class="lw" x="800" y="33">V</text>
<rect class="b" x="808" y="0" width="47" height="66"/><text class="lw" x="831.5" y="33">mLSU</text>
<rect class="b" x="855" y="0" width="17" height="66"/><text class="lw" x="863.5" y="33">L1</text>
<rect class="b" x="872" y="0" width="16" height="66"/><text class="lw" x="880" y="33">S2</text>
<rect class="b" x="888" y="0" width="15" height="66"/><text class="lw" x="895.5" y="33">A</text>
<rect class="b" x="903" y="0" width="17" height="66"/><text class="lw" x="911.5" y="33">L2</text>
<rect class="b" x="920" y="0" width="46" height="66"/><text class="lw" x="943" y="33">nad1</text>
<rect class="b" x="966" y="0" width="15" height="66"/><text class="lw" x="973.5" y="33">I</text>
<rect class="b" x="981" y="0" width="17" height="66"/><text class="lw" x="989.5" y="33">K</text>
<rect class="o" x="998" y="0" width="45" height="66"/><text class="lw" x="1020.5" y="33">nad3</text>
<rect class="o" x="1043" y="0" width="17" height="66"/><text class="lw" x="1051.5" y="33">S1</text>
<rect class="o" x="1060" y="0" width="50" height="66"/><text class="lw" x="1085" y="33">nad2</text>
<rect class="dg" x="1110" y="0" width="16" height="66"/><text class="ld" x="1118" y="33">C</text>
<rect class="fr" x="8" y="0" width="1118" height="66"/>
</g>
</g>

<!-- Row 10 -->
<g id="row-lumbricus">
<text class="ti" x="11" y="1042"><tspan class="it">Lumbricus terrestris</tspan><tspan x="162">(Oligochaeta)</tspan></text>
<g transform="translate(0,1050)">
<rect class="g1" x="8" y="0" width="49" height="67"/><text x="32.5" y="33.5">cox1</text>
<rect class="g1" x="57" y="0" width="18" height="67"/><text x="66" y="33.5">N</text>
<rect class="g1" x="75" y="0" width="47" height="67"/><text x="98.5" y="33.5">cox2</text>
<rect class="w" x="122" y="0" width="16" height="67"/><text x="130" y="33.5">D</text>
<rect class="w" x="138" y="0" width="48" height="67"/><text x="162" y="33.5">atp8</text>
<rect class="w" x="186" y="0" width="17" height="67"/><text x="194.5" y="33.5">Y</text>
<rect class="w" x="203" y="0" width="14" height="67"/><text x="210" y="33.5">G</text>
<rect class="y" x="217" y="0" width="48" height="67"/><text x="241" y="33.5">cox3</text>
<rect class="y" x="265" y="0" width="16" height="67"/><text x="273" y="33.5">Q</text>
<rect class="y" x="281" y="0" width="49" height="67"/><text x="305.5" y="33.5">nad6</text>
<rect class="y" x="330" y="0" width="45" height="67"/><text x="352.5" y="28">cob</text>
<rect class="y" x="375" y="0" width="18" height="67"/><text x="384" y="33.5">W</text>
<rect class="y" x="393" y="0" width="49" height="67"/><text x="417.5" y="33.5">atp6</text>
<rect class="lb" x="442" y="0" width="15" height="67"/><text x="449.5" y="33.5">R</text>
<rect class="lb" x="457" y="0" width="47" height="67"/><text x="480.5" y="33.5">UNK</text>
<rect class="p" x="504" y="0" width="16" height="67"/><text x="512" y="33.5">H</text>
<rect class="p" x="520" y="0" width="49" height="67"/><text x="544.5" y="33.5">nad5</text>
<rect class="p" x="569" y="0" width="16" height="67"/><text x="577" y="33.5">F</text>
<rect class="p" x="585" y="0" width="15" height="67"/><text x="592.5" y="33.5">E</text>
<rect class="p" x="600" y="0" width="16" height="67"/><text x="608" y="33.5">P</text>
<rect class="p" x="616" y="0" width="18" height="67"/><text x="625" y="33.5">T</text>
<rect class="p" x="634" y="0" width="51" height="67"/><text x="659.5" y="33.5">nad4L</text>
<rect class="p" x="685" y="0" width="42" height="67"/><text x="706" y="33.5">nad4</text>
<rect class="dg" x="727" y="0" width="17" height="67"/><text class="ld" x="735.5" y="33.5">C</text>
<rect class="dg" x="744" y="0" width="17" height="67"/><text class="ld" x="752.5" y="33.5">M</text>
<rect class="b" x="761" y="0" width="49" height="67"/><text class="lw" x="785.5" y="33.5">mSSU</text>
<rect class="b" x="810" y="0" width="16" height="67"/><text class="lw" x="818" y="33.5">V</text>
<rect class="b" x="826" y="0" width="47" height="67"/><text class="lw" x="849.5" y="33.5">mLSU</text>
<rect class="b" x="873" y="0" width="18" height="67"/><text class="lw" x="882" y="33.5">L1</text>
<rect class="b" x="891" y="0" width="15" height="67"/><text class="lw" x="898.5" y="33.5">A</text>
<rect class="b" x="906" y="0" width="16" height="67"/><text class="lw" x="914" y="33.5">S2</text>
<rect class="b" x="922" y="0" width="16" height="67"/><text class="lw" x="930" y="33.5">L2</text>
<rect class="b" x="938" y="0" width="48" height="67"/><text class="lw" x="962" y="33.5">nad1</text>
<rect class="b" x="986" y="0" width="14" height="67"/><text class="lw" x="993" y="33.5">I</text>
<rect class="b" x="1000" y="0" width="17" height="67"/><text class="lw" x="1008.5" y="33.5">K</text>
<rect class="o" x="1017" y="0" width="48" height="67"/><text class="lw" x="1041" y="33.5">nad3</text>
<rect class="o" x="1065" y="0" width="17" height="67"/><text class="lw" x="1073.5" y="33.5">S1</text>
<rect class="o" x="1082" y="0" width="44" height="67"/><text class="lw" x="1104" y="33.5">nad2</text>
<rect class="fr" x="8" y="0" width="1118" height="67"/>
</g>
</g>

<!-- Row 11 -->
<g id="row-helobdella">
<text class="ti" x="14" y="1158"><tspan class="it">Helobdella robusta</tspan><tspan x="158">(Hirudinea)</tspan></text>
<g transform="translate(0,1165)">
<rect class="g1" x="8" y="0" width="49" height="67"/><text x="32.5" y="33.5">cox1</text>
<rect class="g1" x="57" y="0" width="15" height="67"/><text x="64.5" y="33.5">N</text>
<rect class="g1" x="72" y="0" width="48" height="67"/><text x="96" y="33.5">cox2</text>
<rect class="w" x="120" y="0" width="16" height="67"/><text x="128" y="33.5">D</text>
<rect class="w" x="136" y="0" width="49" height="67"/><text x="160.5" y="33.5">atp8</text>
<rect class="w" x="185" y="0" width="16" height="67"/><text x="193" y="33.5">Y</text>
<rect class="w" x="201" y="0" width="15" height="67"/><text x="208.5" y="33.5">G</text>
<rect class="y" x="216" y="0" width="48" height="67"/><text x="240" y="33.5">cox3</text>
<rect class="y" x="264" y="0" width="15" height="67"/><text x="271.5" y="33.5">Q</text>
<rect class="y" x="279" y="0" width="49" height="67"/><text x="303.5" y="33.5">nad6</text>
<rect class="y" x="328" y="0" width="50" height="67"/><text x="353" y="33.5">cob</text>
<rect class="w nb" x="379" y="1" width="446" height="65"/>
<text class="d" x="427" y="33.5">•••••</text>
<text class="d" x="515" y="33.5">•••••</text>
<text class="d" x="603" y="33.5">•••••</text>
<text class="d" x="692" y="33.5">•••••</text>
<text class="d" x="782" y="33.5">•••••</text>
<rect class="b" x="825" y="0" width="47" height="67"/><text class="lw" x="848.5" y="33.5">mLSU</text>
<rect class="b" x="872" y="0" width="18" height="67"/><text class="lw" x="881" y="33.5">L1</text>
<rect class="b" x="890" y="0" width="14" height="67"/><text class="lw" x="897" y="33.5">A</text>
<rect class="b" x="904" y="0" width="16" height="67"/><text class="lw" x="912" y="33.5">S2</text>
<rect class="b" x="920" y="0" width="18" height="67"/><text class="lw" x="929" y="33.5">L2</text>
<rect class="b" x="938" y="0" width="48" height="67"/><text class="lw" x="962" y="33.5">nad1</text>
<rect class="b" x="986" y="0" width="13" height="67"/><text class="lw" x="992.5" y="33.5">I</text>
<rect class="b" x="999" y="0" width="19" height="67"/><text class="lw" x="1008.5" y="33.5">K</text>
<rect class="o" x="1018" y="0" width="46" height="67"/><text class="lw" x="1041" y="33.5">nad3</text>
<rect class="o" x="1064" y="0" width="18" height="67"/><text class="lw" x="1073" y="33.5">S1</text>
<rect class="o" x="1082" y="0" width="44" height="67"/><text class="lw" x="1104" y="33.5">nad2</text>
<rect class="fr" x="8" y="0" width="1118" height="67"/>
<line class="wl" x1="378" y1="2" x2="378" y2="65"/>
<line class="dash" x1="378" y1="0" x2="378" y2="67"/>
</g>
</g>

<!-- Row 12 -->
<g id="row-galathealinum">
<text class="ti" x="14" y="1272"><tspan class="it">Galathealinum brachiosum</tspan><tspan x="208">(Siboglinidae)</tspan></text>
<g transform="translate(0,1280)">
<rect class="g1" x="8" y="0" width="49" height="67"/><text x="32.5" y="33.5">cox1</text>
<rect class="g1" x="57" y="0" width="15" height="67"/><text x="64.5" y="33.5">N</text>
<rect class="g1" x="72" y="0" width="48" height="67"/><text x="96" y="33.5">cox2</text>
<rect class="w" x="120" y="0" width="16" height="67"/><text x="128" y="33.5">D</text>
<rect class="w" x="136" y="0" width="49" height="67"/><text x="160.5" y="33.5">atp8</text>
<rect class="w" x="185" y="0" width="16" height="67"/><text x="193" y="33.5">Y</text>
<rect class="w" x="201" y="0" width="15" height="67"/><text x="208.5" y="33.5">G</text>
<rect class="y" x="216" y="0" width="48" height="67"/><text x="240" y="33.5">cox3</text>
<rect class="y" x="264" y="0" width="15" height="67"/><text x="271.5" y="33.5">Q</text>
<rect class="y" x="279" y="0" width="49" height="67"/><text x="303.5" y="33.5">nad6</text>
<rect class="y" x="328" y="0" width="50" height="67"/><text x="353" y="33.5">cob</text>
<rect class="w nb" x="379" y="1" width="443" height="65"/>
<text class="d" x="420" y="33.5">•••••</text>
<text class="d" x="508" y="33.5">•••••</text>
<text class="d" x="597" y="33.5">•••••</text>
<text class="d" x="685" y="33.5">•••••</text>
<text class="d" x="773" y="33.5">•••••</text>
<rect class="b" x="822" y="0" width="50" height="67"/><text class="lw" x="847" y="33.5">mLSU</text>
<rect class="b" x="872" y="0" width="18" height="67"/><text class="lw" x="881" y="33.5">L1</text>
<rect class="b" x="890" y="0" width="14" height="67"/><text class="lw" x="897" y="33.5">A</text>
<rect class="b" x="904" y="0" width="16" height="67"/><text class="lw" x="912" y="33.5">S2</text>
<rect class="b" x="920" y="0" width="18" height="67"/><text class="lw" x="929" y="33.5">L2</text>
<rect class="b" x="938" y="0" width="48" height="67"/><text class="lw" x="962" y="33.5">nad1</text>
<rect class="b" x="986" y="0" width="13" height="67"/><text class="lw" x="992.5" y="33.5">I</text>
<rect class="b" x="999" y="0" width="19" height="67"/><text class="lw" x="1008.5" y="33.5">K</text>
<rect class="o" x="1018" y="0" width="46" height="67"/><text class="lw" x="1041" y="33.5">nad3</text>
<rect class="o" x="1064" y="0" width="18" height="67"/><text class="lw" x="1073" y="33.5">S1</text>
<rect class="o" x="1082" y="0" width="44" height="67"/><text class="lw" x="1104" y="33.5">nad2</text>
<rect class="fr" x="8" y="0" width="1118" height="67"/>
<line class="wl" x1="378" y1="2" x2="378" y2="65"/>
<line class="dash" x1="378" y1="0" x2="378" y2="67"/>
</g>
</g>

<!-- Row 13 -->
<g id="row-riftia">
<text class="ti" x="14" y="1383"><tspan class="it">Riftia pachyptila</tspan><tspan x="151">(Siboglinidae)</tspan></text>
<g transform="translate(0,1390)">
<rect class="g1" x="8" y="0" width="49" height="66"/><text x="32.5" y="33">cox1</text>
<rect class="g1" x="57" y="0" width="18" height="66"/><text x="66" y="33">N</text>
<rect class="g1" x="75" y="0" width="47" height="66"/><text x="98.5" y="33">cox2</text>
<rect class="w" x="122" y="0" width="16" height="66"/><text x="130" y="33">D</text>
<rect class="w" x="138" y="0" width="49" height="66"/><text x="162.5" y="33">atp8</text>
<rect class="w" x="187" y="0" width="16" height="66"/><text x="195" y="33">Y</text>
<rect class="w" x="203" y="0" width="14" height="66"/><text x="210" y="33">G</text>
<rect class="y" x="217" y="0" width="49" height="66"/><text x="241.5" y="33">cox3</text>
<rect class="y" x="266" y="0" width="15" height="66"/><text x="273.5" y="33">Q</text>
<rect class="y" x="281" y="0" width="49" height="66"/><text x="305.5" y="33">nad6</text>
<rect class="y" x="330" y="0" width="47" height="66"/><text x="353.5" y="33">cob</text>
<rect class="y" x="377" y="0" width="16" height="66"/><text x="385" y="33">W</text>
<rect class="y" x="393" y="0" width="49" height="66"/><text x="417.5" y="33">atp6</text>
<rect class="w nb" x="443" y="1" width="237" height="64"/>
<text class="d" x="515" y="33">•••••</text>
<text class="d" x="631" y="33">•••••</text>
<rect class="p" x="681" y="0" width="47" height="66"/><text x="704.5" y="33">nad4</text>
<rect class="dg" x="728" y="0" width="17" height="66"/><text class="ld" x="736.5" y="33">C</text>
<rect class="dg" x="745" y="0" width="16" height="66"/><text class="ld" x="753" y="33">M</text>
<rect class="b" x="761" y="0" width="49" height="66"/><text class="lw" x="785.5" y="33">mSSU</text>
<rect class="b" x="810" y="0" width="18" height="66"/><text class="lw" x="819" y="33">V</text>
<rect class="b" x="828" y="0" width="47" height="66"/><text class="lw" x="851.5" y="33">mLSU</text>
<rect class="b" x="875" y="0" width="16" height="66"/><text class="lw" x="883" y="33">L1</text>
<rect class="b" x="891" y="0" width="14" height="66"/><text class="lw" x="898" y="33">A</text>
<rect class="b" x="905" y="0" width="17" height="66"/><text class="lw" x="913.5" y="33">S2</text>
<rect class="b" x="922" y="0" width="18" height="66"/><text class="lw" x="931" y="33">L2</text>
<rect class="b" x="940" y="0" width="46" height="66"/><text class="lw" x="963" y="33">nad1</text>
<rect class="b" x="986" y="0" width="16" height="66"/><text class="lw" x="994" y="33">I</text>
<rect class="b" x="1002" y="0" width="18" height="66"/><text class="lw" x="1011" y="33">K</text>
<rect class="o" x="1020" y="0" width="47" height="66"/><text class="lw" x="1043.5" y="33">nad3</text>
<rect class="o" x="1067" y="0" width="16" height="66"/><text class="lw" x="1075" y="33">S1</text>
<rect class="o" x="1083" y="0" width="43" height="66"/><text class="lw" x="1104.5" y="33">nad2</text>
<rect class="fr" x="8" y="0" width="1118" height="66"/>
<line class="wl" x1="442" y1="2" x2="442" y2="64"/>
<line class="dash" x1="442" y1="0" x2="442" y2="66"/>
<line class="wl" x1="681" y1="2" x2="681" y2="64"/>
<line class="dash" x1="681" y1="0" x2="681" y2="66"/>
</g>
</g>
</svg>
